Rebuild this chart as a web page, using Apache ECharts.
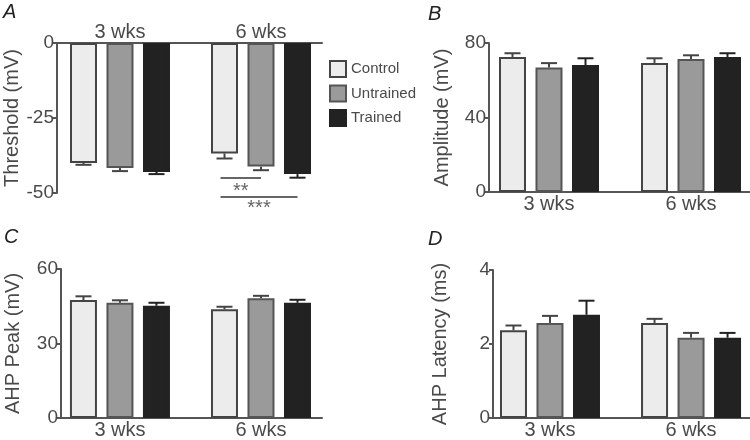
<!DOCTYPE html>
<html>
<head>
<meta charset="utf-8">
<script src="https://cdn.jsdelivr.net/npm/echarts@6/dist/echarts.min.js"></script>
<style>html,body{margin:0;padding:0;background:#fff;}#c{width:750px;height:440px;}</style>
</head>
<body>
<div id="c"></div>
<script>
// ---- data ----
const categories = ['3 wks', '6 wks'];
const groupNames = ['Control', 'Untrained', 'Trained'];

// Panel A: Threshold (mV)
const thrControl = [-40.0, -36.8];
const thrUntrained = [-41.7, -41.2];
const thrTrained = [-43.0, -43.7];
const thrControlSE = [0.6, 1.7];
const thrUntrainedSE = [1.0, 1.2];
const thrTrainedSE = [0.7, 1.2];

// Panel B: Amplitude (mV)
const ampControl = [72.5, 69.3];
const ampUntrained = [66.8, 71.4];
const ampTrained = [68.2, 72.5];
const ampControlSE = [2.0, 2.5];
const ampUntrainedSE = [2.4, 2.0];
const ampTrainedSE = [3.6, 2.0];

// Panel C: AHP Peak (mV)
const peakControl = [47.5, 43.8];
const peakUntrained = [46.4, 48.2];
const peakTrained = [45.2, 46.4];
const peakControlSE = [1.5, 1.0];
const peakUntrainedSE = [1.0, 1.0];
const peakTrainedSE = [1.2, 1.2];

// Panel D: AHP Latency (ms)
const latControl = [2.37, 2.57];
const latUntrained = [2.57, 2.17];
const latTrained = [2.79, 2.17];
const latControlSE = [0.13, 0.11];
const latUntrainedSE = [0.19, 0.13];
const latTrainedSE = [0.38, 0.13];

// Significance markers (panel A, 6 wks): [categoryIndex, lineValue, fromGroup, toGroup, textValue]
const sigMarks = [[1, -45.0, 0, 1, -49.6], [1, -51.3, 0, 2, -55.0]];
const sigLabels = ['**', '***'];

// ---- styles / layout ----
const FONT = 'Liberation Sans, Arial, sans-serif';
const TXT = '#4a4a4a';
const AXIS = '#555';
const fills = ['#ececec', '#9a9a9a', '#222222'];
const borders = ['#444', '#555', '#222'];
const errColors = ['#444', '#444', '#222'];
const BAR_W = 27;
const BAR_GAP = 9.5;
const STEP = BAR_W + BAR_GAP;

const grids = [
  {left: 57, top: 43, width: 265, height: 150},
  {left: 489, top: 43, width: 261, height: 149},
  {left: 61, top: 269, width: 261, height: 149},
  {left: 493, top: 270, width: 257, height: 149}
];
const xExtents = [[-0.4468, 1.4326], [-0.4225, 1.4155], [-0.418, 1.4326], [-0.404, 1.418]];
const yNames = ['Threshold (mV)', 'Amplitude (mV)', 'AHP Peak (mV)', 'AHP Latency (ms)'];
const yNameGaps = [33, 37, 38, 43];
const yRanges = [[-50, 0, 25], [0, 80, 40], [0, 60, 30], [0, 4, 2]];

const panelData = [
  [[thrControl, thrControlSE], [thrUntrained, thrUntrainedSE], [thrTrained, thrTrainedSE]],
  [[ampControl, ampControlSE], [ampUntrained, ampUntrainedSE], [ampTrained, ampTrainedSE]],
  [[peakControl, peakControlSE], [peakUntrained, peakUntrainedSE], [peakTrained, peakTrainedSE]],
  [[latControl, latControlSE], [latUntrained, latUntrainedSE], [latTrained, latTrainedSE]]
];

const catIndex = categories.map((c, i) => i);

const xAxes = grids.map((g, i) => ({
  type: 'value', gridIndex: i, min: xExtents[i][0], max: xExtents[i][1],
  position: i === 0 ? 'top' : 'bottom',
  splitLine: {show: false},
  axisLine: {show: true, onZero: false, lineStyle: {color: AXIS, width: 2}},
  axisTick: {show: false},
  axisLabel: {
    customValues: catIndex,
    formatter: v => categories[Math.round(v)] || '',
    color: TXT, fontSize: 20, fontFamily: FONT, margin: i === 0 ? 1 : 2
  }
}));

const yAxes = grids.map((g, i) => ({
  type: 'value', gridIndex: i, min: yRanges[i][0], max: yRanges[i][1], interval: yRanges[i][2],
  splitLine: {show: false},
  axisLine: {show: true, onZero: false, lineStyle: {color: AXIS, width: 2}},
  axisTick: {show: true, length: 4, lineStyle: {color: AXIS, width: 2}},
  axisLabel: {color: TXT, fontSize: 19, fontFamily: FONT, margin: 3},
  name: yNames[i], nameLocation: 'middle', nameGap: yNameGaps[i], nameRotate: 90,
  nameTextStyle: {color: TXT, fontSize: 20, fontFamily: FONT}
}));

function errRender(gi) {
  const off = (gi - 1) * STEP;
  return function (params, api) {
    const cat = api.value(0), mean = api.value(1), se = api.value(2);
    const sign = mean < 0 ? -1 : 1;
    const p0 = api.coord([cat, mean]);
    const p1 = api.coord([cat, mean + sign * se]);
    const x = p0[0] + off;
    const st = {stroke: errColors[gi], lineWidth: 2};
    return {
      type: 'group',
      children: [
        {type: 'line', shape: {x1: x, y1: p0[1], x2: x, y2: p1[1]}, style: st},
        {type: 'line', shape: {x1: x - 8, y1: p1[1], x2: x + 8, y2: p1[1]}, style: st}
      ]
    };
  };
}

const series = [];
panelData.forEach((panel, pi) => {
  panel.forEach((pair, gi) => {
    series.push({
      type: 'bar', name: groupNames[gi], xAxisIndex: pi, yAxisIndex: pi,
      data: pair[0].map((v, k) => [catIndex[k], v]),
      encode: {x: 0, y: 1},
      barWidth: BAR_W, barGap: (BAR_GAP / BAR_W * 100) + '%',
      itemStyle: {color: fills[gi], borderColor: borders[gi], borderWidth: 2},
      z: 3, silent: true
    });
  });
  panel.forEach((pair, gi) => {
    series.push({
      type: 'custom', name: groupNames[gi] + ' SE', xAxisIndex: pi, yAxisIndex: pi,
      data: pair[0].map((v, k) => [catIndex[k], v, pair[1][k]]),
      encode: {x: 0, y: 1},
      renderItem: errRender(gi), clip: false, z: 2, silent: true
    });
  });
});

series.push({
  type: 'custom', name: 'sig', xAxisIndex: 0, yAxisIndex: 0, clip: false, z: 5, silent: true,
  data: sigMarks, encode: {x: 0, y: 1},
  renderItem: function (params, api) {
    const cat = api.value(0), yv = api.value(1), a = api.value(2), b = api.value(3), tv = api.value(4);
    const c = api.coord([cat, yv]);
    const t = api.coord([cat, tv]);
    const x1 = c[0] + (a - 1) * STEP - 4;
    const x2 = c[0] + (b - 1) * STEP;
    return {
      type: 'group',
      children: [
        {type: 'line', shape: {x1: x1, y1: c[1], x2: x2, y2: c[1]}, style: {stroke: '#666', lineWidth: 2}},
        {type: 'text', x: (x1 + x2) / 2, y: t[1],
         style: {text: sigLabels[params.dataIndex], fill: '#666', fontSize: 20, fontFamily: FONT, align: 'center', verticalAlign: 'middle'}}
      ]
    };
  }
});

const titles = [
  {text: 'A', left: 3, top: 2},
  {text: 'B', left: 428, top: 4},
  {text: 'C', left: 4, top: 227},
  {text: 'D', left: 428, top: 229}
].map(t => Object.assign(t, {padding: 0, textStyle: {fontSize: 20, fontStyle: 'italic', fontWeight: 'normal', color: '#222', fontFamily: FONT}}));

const option = {
  animation: false,
  backgroundColor: '#fff',
  title: titles,
  legend: {
    data: groupNames, orient: 'vertical', left: 329, top: 60, padding: 0,
    itemWidth: 16, itemHeight: 16, itemGap: 6.5, icon: 'rect',
    textStyle: {color: TXT, fontSize: 15, fontFamily: FONT},
    selectedMode: false
  },
  grid: grids,
  xAxis: xAxes,
  yAxis: yAxes,
  series: series
};

const chart = echarts.init(document.getElementById('c'), null, {renderer: 'canvas'});
chart.setOption(option);
</script>
</body>
</html>
